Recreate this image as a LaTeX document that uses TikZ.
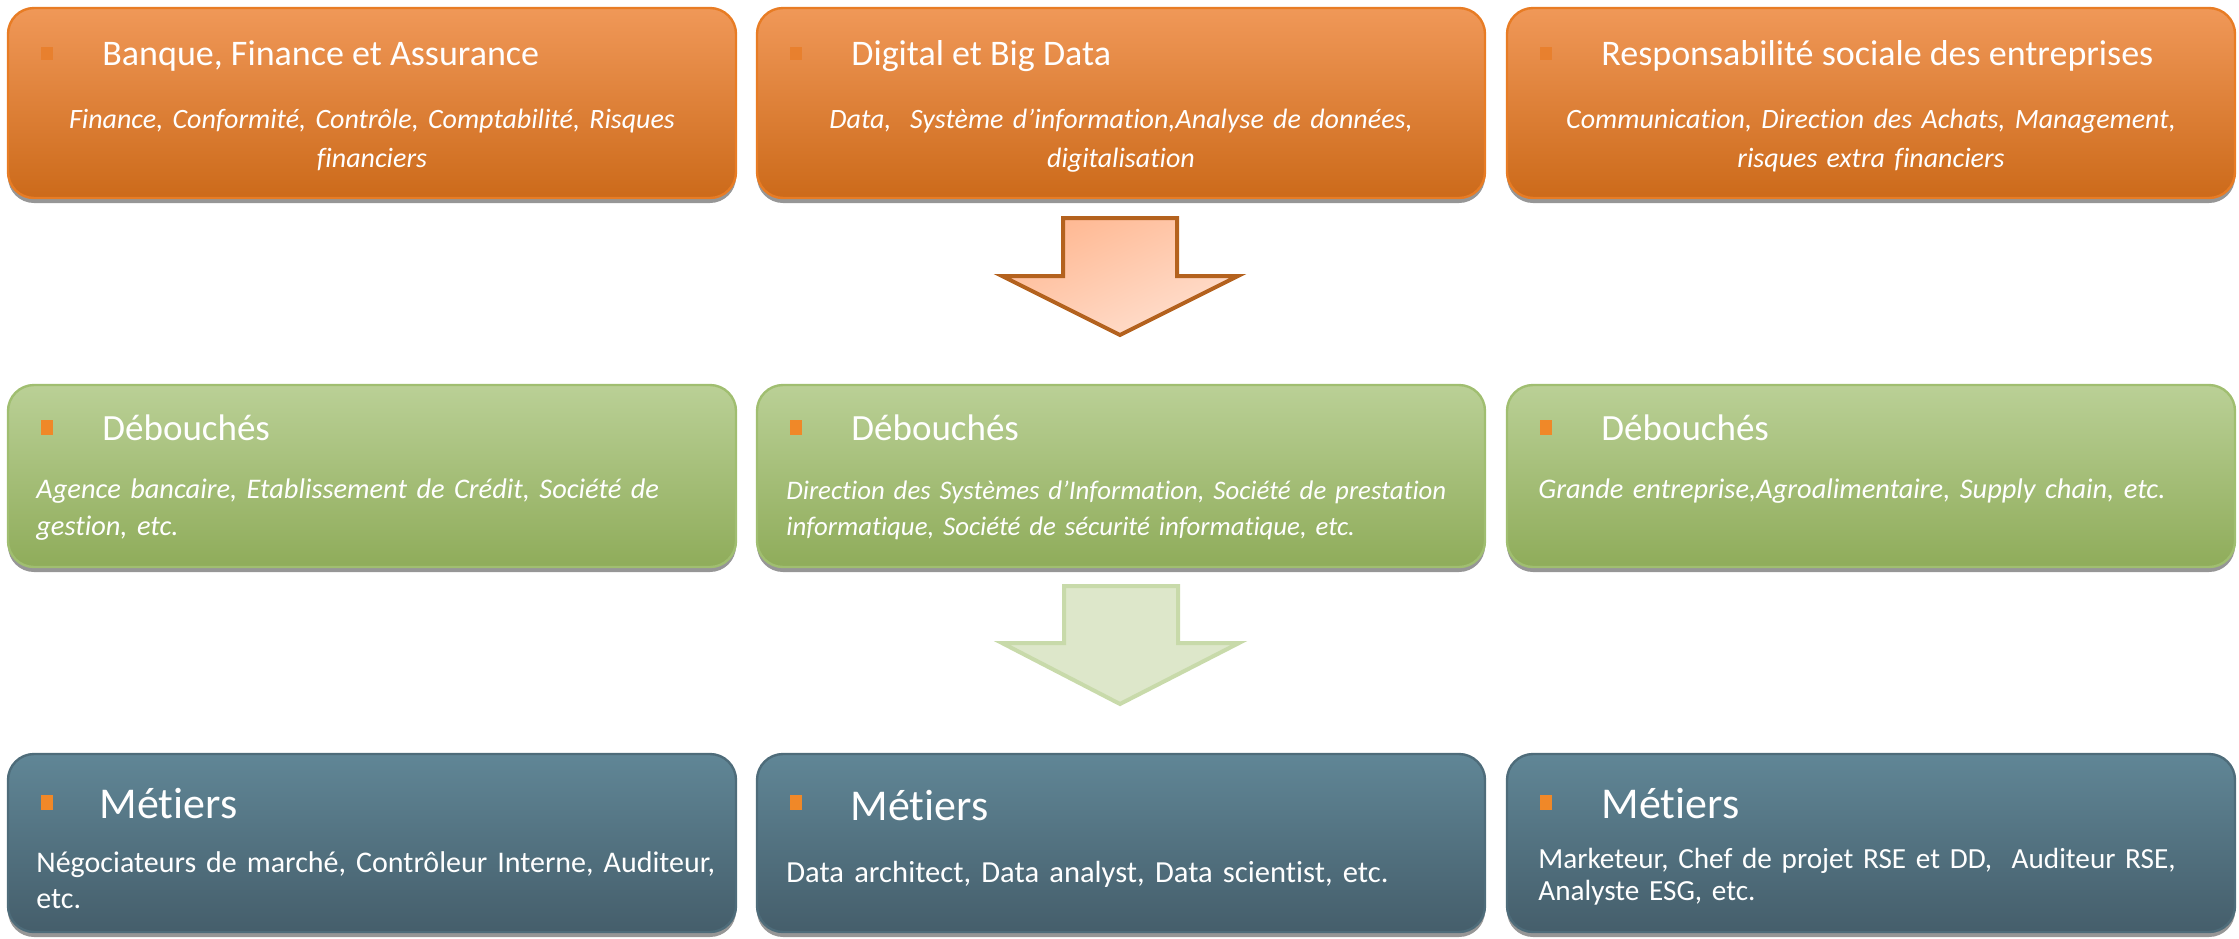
\documentclass[tikz,border=0pt]{standalone}
\usepackage{fontspec}
\setmainfont{Carlito}[Ligatures={NoCommon,NoRare,NoContextual}]
\usetikzlibrary{shadows}
\definecolor{orTop}{RGB}{240,152,88}
\definecolor{orBot}{RGB}{204,106,26}
\definecolor{orLine}{RGB}{232,124,36}
\definecolor{orBullet}{RGB}{232,128,46}
\definecolor{grTop}{RGB}{186,208,150}
\definecolor{grBot}{RGB}{143,172,90}
\definecolor{grLine}{RGB}{160,190,112}
\definecolor{blTop}{RGB}{96,134,150}
\definecolor{blBot}{RGB}{69,94,107}
\definecolor{blLine}{RGB}{78,108,122}
\definecolor{bulletOr}{RGB}{240,136,40}
\definecolor{arOneA}{RGB}{255,184,146}
\definecolor{arOneB}{RGB}{255,224,208}
\definecolor{arOneLine}{RGB}{180,98,30}
\definecolor{arTwoFill}{RGB}{221,231,202}
\definecolor{arTwoLine}{RGB}{200,218,170}
\begin{document}
\begin{tikzpicture}[x=0.5pt,y=-0.5pt,
  card/.style={line width=1.2pt, rounded corners=13pt, minimum width=364pt, inner sep=0pt,
    drop shadow={shadow xshift=0pt,shadow yshift=-2.5pt,opacity=0.55,fill=black!75}},
  orcard/.style={card, draw=orLine, top color=orTop, bottom color=orBot},
  grcard/.style={card, draw=grLine, top color=grTop, bottom color=grBot},
  blcard/.style={card, draw=blLine, top color=blTop, bottom color=blBot},
  bul/.style={rectangle, inner sep=0pt, minimum width=6pt, minimum height=6.5pt},
  ttl/.style={anchor=base west, inner sep=0pt, text=white, font=\fontsize{18}{22}\selectfont},
  ttlbig/.style={anchor=base west, inner sep=0pt, text=white, font=\fontsize{22}{26}\selectfont},
  topdesc/.style={anchor=base, inner sep=0pt, text=white, text width=360pt, align=center,
    font=\fontsize{14}{19.5}\selectfont\itshape},
  grdesc/.style={anchor=base west, inner sep=0pt, text=white, text width=360pt, align=left,
    font=\fontsize{14.2}{18.5}\selectfont\itshape},
  bldesc/.style={anchor=base west, inner sep=0pt, text=white, text width=360pt, align=left,
    font=\fontsize{15}{18}\selectfont},
  arrowone/.style={line width=2pt, draw=arOneLine, line join=miter, top color=arOneA, bottom color=arOneB, shading angle=25},
  arrowtwo/.style={line width=2pt, draw=arTwoLine, line join=miter, fill=arTwoFill}
]
\useasboundingbox (0,0) rectangle (2239,938);

% top row
\node[orcard, minimum height=95pt] (t1) at (372,103) {};
\node[orcard, minimum height=95pt] (t2) at (1121,103) {};
\node[orcard, minimum height=95pt] (t3) at (1871,103) {};
\node[bul, fill=orBullet] (t1b) at (47,53) {};
\node[bul, fill=orBullet] (t2b) at (796,53) {};
\node[bul, fill=orBullet] (t3b) at (1546,53) {};
\node[ttl] (t1t) at (102,65) {Banque, Finance et Assurance};
\node[ttl] (t2t) at (851,65) {Digital et Big Data};
\node[ttl] (t3t) at (1601,65) {Responsabilité sociale des entreprises};
\node[topdesc] (t1d) at (372,128) {Finance, Conformité, Contrôle, Comptabilité, Risques\\financiers};
\node[topdesc] (t2d) at (1121,128) {Data,~ Système d’information,Analyse de données,\\digitalisation};
\node[topdesc] (t3d) at (1871,128) {Communication, Direction des Achats, Management,\\risques extra financiers};

% arrow 1
\coordinate (a1a) at (1063,218);
\coordinate (a1b) at (1177,218);
\coordinate (a1c) at (1177,276);
\coordinate (a1d) at (1238,276);
\coordinate (a1tip) at (1120,335);
\coordinate (a1e) at (1002,276);
\coordinate (a1f) at (1063,276);
\draw[arrowone] (a1a) -- (a1b) -- (a1c) -- (a1d) -- (a1tip) -- (a1e) -- (a1f) -- cycle;

% middle row
\node[grcard, minimum height=91pt] (g1) at (372,476) {};
\node[grcard, minimum height=91pt] (g2) at (1121,476) {};
\node[grcard, minimum height=91pt] (g3) at (1871,476) {};
\node[bul, fill=bulletOr, minimum height=7.5pt] (g1b) at (47,427) {};
\node[bul, fill=bulletOr, minimum height=7.5pt] (g2b) at (796,427) {};
\node[bul, fill=bulletOr, minimum height=7.5pt] (g3b) at (1546,427) {};
\node[ttl, font=\fontsize{18.5}{22}\selectfont] (g1t) at (102,440) {Débouchés};
\node[ttl, font=\fontsize{18.5}{22}\selectfont] (g2t) at (851,440) {Débouchés};
\node[ttl, font=\fontsize{18.5}{22}\selectfont] (g3t) at (1601,440) {Débouchés};
\node[grdesc] (g1d) at (36,498) {Agence bancaire, Etablissement de Crédit, Société de\\gestion, etc.};
\node[grdesc, font=\fontsize{13.4}{18}\selectfont\itshape] (g2d) at (786,499) {Direction des Systèmes d’Information, Société de prestation\\informatique, Société de sécurité informatique, etc.};
\node[grdesc] (g3d) at (1538,498) {Grande entreprise,Agroalimentaire, Supply chain, etc.};

% arrow 2
\coordinate (a2a) at (1064,586);
\coordinate (a2b) at (1178,586);
\coordinate (a2c) at (1178,643);
\coordinate (a2d) at (1239,643);
\coordinate (a2tip) at (1120,704);
\coordinate (a2e) at (1002,643);
\coordinate (a2f) at (1064,643);
\draw[arrowtwo] (a2a) -- (a2b) -- (a2c) -- (a2d) -- (a2tip) -- (a2e) -- (a2f) -- cycle;

% bottom row
\node[blcard, minimum height=89pt] (b1) at (372,843) {};
\node[blcard, minimum height=89pt] (b2) at (1121,843) {};
\node[blcard, minimum height=89pt] (b3) at (1871,843) {};
\node[bul, fill=bulletOr, minimum height=7.5pt] (b1b) at (47,802) {};
\node[bul, fill=bulletOr, minimum height=7.5pt] (b2b) at (796,802) {};
\node[bul, fill=bulletOr, minimum height=7.5pt] (b3b) at (1546,802) {};
\node[ttlbig] (b1t) at (99,818) {Métiers};
\node[ttlbig] (b2t) at (850,820) {Métiers};
\node[ttlbig] (b3t) at (1601,818) {Métiers};
\node[bldesc] (b1d) at (36,872) {Négociateurs de marché, Contrôleur Interne, Auditeur,\\etc.};
\node[bldesc, font=\fontsize{15.3}{18}\selectfont] (b2d) at (786,882) {Data architect, Data analyst, Data scientist, etc.};
\node[bldesc, font=\fontsize{14.6}{16}\selectfont] (b3d) at (1538,868) {Marketeur, Chef de projet RSE et DD,~ Auditeur RSE,\\Analyste ESG, etc.};
\end{tikzpicture}
\end{document}
